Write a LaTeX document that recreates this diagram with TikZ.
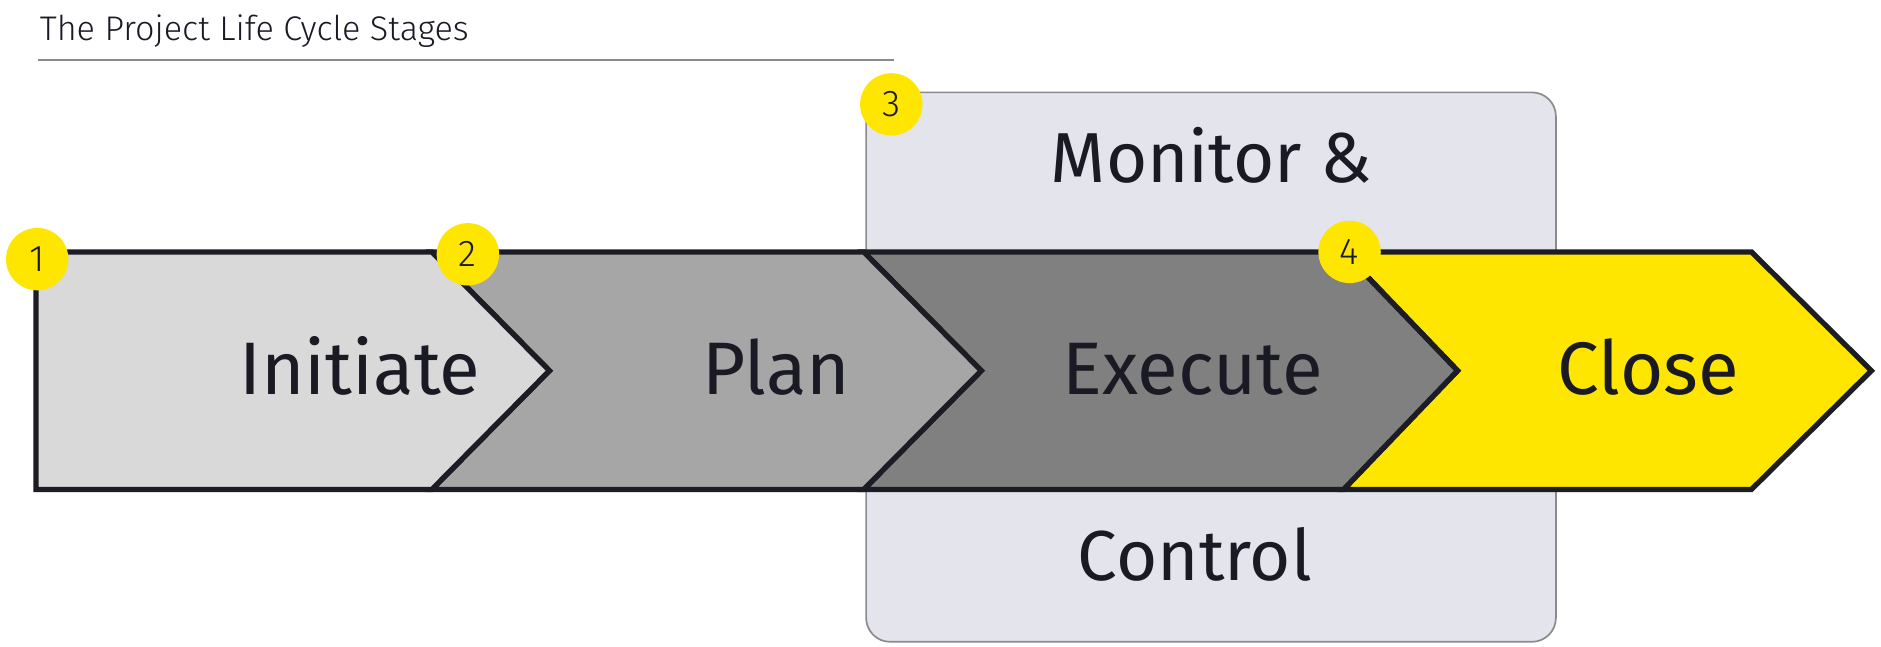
\documentclass[tikz,border=0pt]{standalone}
\usepackage{fontspec}
\setmainfont{Fira Sans}
\newfontfamily\lightfont{Fira Sans}[UprightFont=* Light]
\definecolor{eyyellow}{HTML}{FFE600}
\definecolor{ini}{HTML}{D9D9D9}
\definecolor{pln}{HTML}{A6A6A6}
\definecolor{exe}{HTML}{808080}
\definecolor{boxfill}{HTML}{E4E4EC}
\definecolor{boxline}{HTML}{8A8A8E}
\definecolor{outl}{HTML}{1C1C24}
\definecolor{txt}{HTML}{1A1A24}
\begin{document}
\begin{tikzpicture}[x=1pt,y=-1pt,
  chev/.style={draw=outl,line width=4.4pt,line join=miter},
  stagelabel/.style={text=txt,font=\fontsize{62}{70}\selectfont,inner sep=0pt,anchor=base},
  badge/.style={circle,fill=eyyellow,minimum size=52pt,inner sep=0pt,text=txt,font=\lightfont\fontsize{31}{32}\selectfont},
  mcbox/.style={draw=boxline,line width=1.4pt,fill=boxfill,rounded corners=20pt}]
\useasboundingbox (0,0) rectangle (1568,539);
% title
\node[anchor=base west,inner sep=0pt,text=txt,font=\lightfont\fontsize{28.5}{30}\selectfont] (title) at (33,34) {The Project Life Cycle Stages};
\coordinate (r1) at (32,50);
\coordinate (r2) at (745,50);
\draw[boxline,line width=1.2pt] (r1) -- (r2);
% monitor & control box
\draw[mcbox] (722,77) rectangle (1297,535);
\node[stagelabel,font=\fontsize{59}{66}\selectfont] (mon) at (1010,152) {Monitor \&};
\node[stagelabel,font=\fontsize{59}{66}\selectfont] (ctl) at (996,484) {Control};
% chevrons
\draw[chev,fill=eyyellow] (1120,210) -- (1460,210) -- (1560,309) -- (1460,408) -- (1120,408) -- (1215,309) -- cycle;
\draw[chev,fill=exe] (720,210) -- (1120,210) -- (1215,309) -- (1120,408) -- (720,408) -- (818,309) -- cycle;
\draw[chev,fill=pln] (360,210) -- (720,210) -- (818,309) -- (720,408) -- (360,408) -- (458,309) -- cycle;
\draw[chev,fill=ini] (30,210) -- (360,210) -- (458,309) -- (360,408) -- (30,408) -- cycle;
\node[stagelabel] (ini) at (300,329) {Initiate};
\node[stagelabel] (pln) at (647,329) {Plan};
\node[stagelabel] (exe) at (994,329) {Execute};
\node[stagelabel] (cls) at (1374,329) {Close};
% badges
\node[badge] (b1) at (31,216) {1};
\node[badge] (b2) at (390,212) {2};
\node[badge] (b3) at (743,87) {3};
\node[badge] (b4) at (1125,210) {4};
\end{tikzpicture}
\end{document}
